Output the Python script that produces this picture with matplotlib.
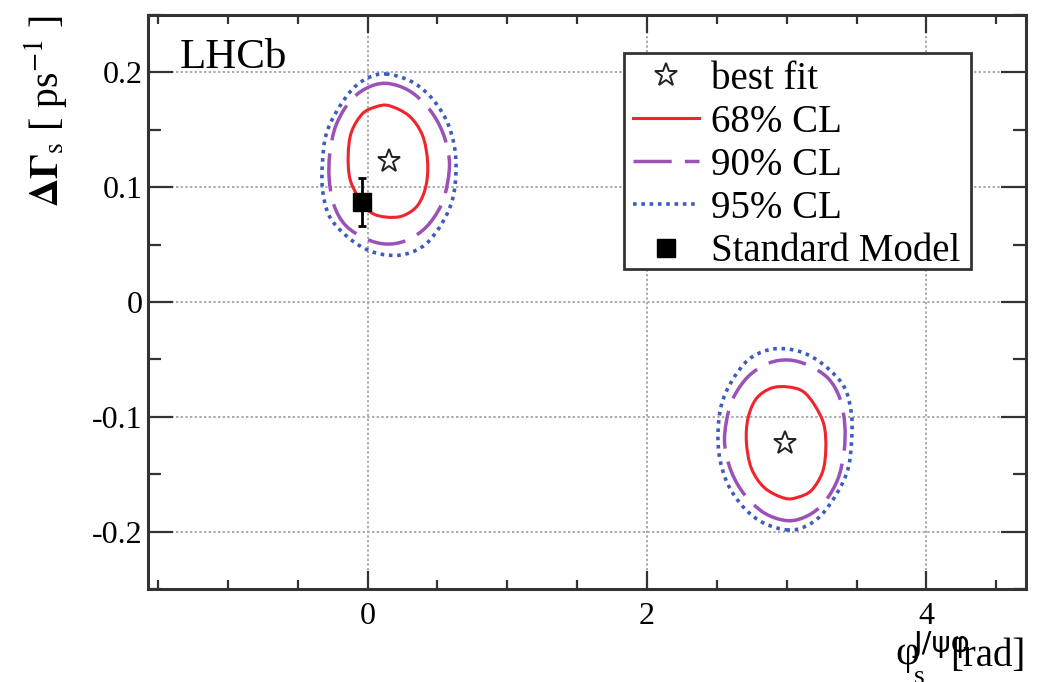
import numpy as np
import matplotlib
matplotlib.use("Agg")
import matplotlib.pyplot as plt
from matplotlib.path import Path
from matplotlib.patches import PathPatch, Rectangle
from matplotlib.lines import Line2D
from matplotlib.ticker import MultipleLocator, FixedLocator

plt.rcParams['font.family'] = ['Liberation Serif', 'DejaVu Serif']
plt.rcParams['mathtext.fontset'] = 'stix'

# ---- data: confidence contours of the first solution (phi_s [rad], dGamma_s [ps^-1]) ----
cl68_phi = [0.155, 0.299, 0.394, 0.430, 0.418, 0.358, 0.251, 0.132, 0.024, -0.059,
            -0.125, -0.138, -0.115, -0.036, 0.060]
cl68_dg = [0.171, 0.162, 0.145, 0.122, 0.101, 0.084, 0.075, 0.074, 0.078, 0.090,
           0.107, 0.128, 0.148, 0.164, 0.170]

cl90_phi = [0.132, 0.299, 0.442, 0.537, 0.585, 0.573, 0.526, 0.418, 0.275, 0.132,
            -0.011, -0.155, -0.239, -0.274, -0.269, -0.226, -0.131, -0.011]
cl90_dg = [0.1905, 0.184, 0.168, 0.148, 0.1246, 0.104, 0.084, 0.065, 0.0535, 0.0505,
           0.055, 0.0665, 0.084, 0.107, 0.130, 0.1537, 0.174, 0.186]

cl95_phi = [0.132, 0.299, 0.442, 0.562, 0.621, 0.633, 0.609, 0.537, 0.418, 0.275,
            0.132, -0.011, -0.155, -0.274, -0.322, -0.322, -0.298, -0.226, -0.107, 0.012]
cl95_dg = [0.1986, 0.193, 0.180, 0.159, 0.136, 0.113, 0.0897, 0.0694, 0.0505, 0.0418,
           0.041, 0.046, 0.058, 0.075, 0.098, 0.122, 0.145, 0.165, 0.1855, 0.1957]

best_phi = 0.155
best_dg = 0.123

sm_phi = -0.036
sm_dg = 0.087
sm_dg_err = 0.021

x_major = [0, 2, 4]
y_major = [-0.2, -0.1, 0.0, 0.1, 0.2]
y_labels = ['-0.2', '-0.1', '0', '0.1', '0.2']

legend_labels = ['best fit', '68% CL', '90% CL', '95% CL', 'Standard Model']

# ---- styles ----
RED = '#f2232b'
PURPLE = '#9b52b8'
BLUE = '#3d5cbd'
styles = [
    dict(color=RED, lw=2.2, ls='-'),
    dict(color=PURPLE, lw=2.5, ls=(0, (11, 3.8))),
    dict(color=BLUE, lw=2.6, ls=(0, (1.0, 1.3))),
]


def closed_curve(xs, ys):
    """Smooth closed Catmull-Rom curve through the given points, as a Bezier path."""
    pts = np.column_stack([xs, ys]).astype(float)
    n = len(pts)
    verts = [pts[0]]
    codes = [Path.MOVETO]
    for i in range(n):
        p0, p1, p2, p3 = pts[i - 1], pts[i], pts[(i + 1) % n], pts[(i + 2) % n]
        verts += [p1 + (p2 - p0) / 6.0, p2 - (p3 - p1) / 6.0, p2]
        codes += [Path.CURVE4] * 3
    return Path(np.array(verts), codes)


W, H = 1041, 682
AX_L, AX_R, AX_T, AX_B = 148, 1026, 15, 589


def ax_x(px):
    return (px - AX_L) / (AX_R - AX_L)


def ax_y(py):
    return (AX_B - py) / (AX_B - AX_T)


fig = plt.figure(figsize=(W / 100, H / 100), dpi=100)
ax = fig.add_axes([AX_L / W, 1 - AX_B / H, (AX_R - AX_L) / W, (AX_B - AX_T) / H])

ax.set_xlim(-np.pi / 2, 3 * np.pi / 2)
ax.set_ylim(-0.25, 0.25)

# the two solutions are related by (phi, dG) -> (pi - phi, -dG)
contours = [(cl68_phi, cl68_dg), (cl90_phi, cl90_dg), (cl95_phi, cl95_dg)]
for (px, py), st in zip(contours, styles):
    px = np.asarray(px)
    py = np.asarray(py)
    for sx, sy in [(px, py), (np.pi - px, -py)]:
        patch = PathPatch(closed_curve(sx, sy), fill=False, edgecolor=st['color'],
                          lw=st['lw'], linestyle=st['ls'], zorder=3)
        ax.add_patch(patch)

star_kw = dict(marker='*', markersize=17, markerfacecolor='white',
               markeredgecolor='#222222', markeredgewidth=1.4, linestyle='none')
ax.plot([best_phi, np.pi - best_phi], [best_dg, -best_dg], zorder=5, **star_kw)

ax.errorbar([sm_phi], [sm_dg], yerr=[sm_dg_err], fmt='s', color='black',
            markersize=13, elinewidth=2, capsize=3, capthick=2, zorder=6)

# axes styling
ax.xaxis.set_major_locator(FixedLocator(x_major))
ax.xaxis.set_minor_locator(MultipleLocator(0.5))
ax.yaxis.set_major_locator(FixedLocator(y_major))
ax.yaxis.set_minor_locator(MultipleLocator(0.05))
ax.set_xticklabels([str(v) for v in x_major])
ax.set_yticklabels(y_labels)

ax.tick_params(axis='both', which='both', direction='in', top=True, right=True,
               colors='#333333', labelcolor='black', labelsize=23, width=1.6)
ax.tick_params(axis='x', which='major', length=13, pad=9)
ax.tick_params(axis='x', which='minor', length=6.5)
ax.tick_params(axis='y', which='major', length=18, pad=4)
ax.tick_params(axis='y', which='minor', length=9.5)

for sp in ax.spines.values():
    sp.set_linewidth(2.2)
    sp.set_color('#333333')

ax.grid(True, which='major', color='#ababab', lw=1.4, ls=(0, (1.2, 1.2)), zorder=0)
ax.set_axisbelow(True)

# experiment label
ax.text(0.036, 0.908, 'LHCb', transform=ax.transAxes, fontsize=31,
        ha='left', va='baseline')

# axis titles
ax.text(-0.117, 1.0, r'$\mathbf{\Delta\Gamma}_{\mathrm{s}}$ [ ps$^{-1}$ ]',
        transform=ax.transAxes, rotation=90, fontsize=28.5, ha='center', va='top')
ax.text(ax_x(895), ax_y(664), 'φ', transform=ax.transAxes,
        fontsize=30, ha='left', va='baseline')
ax.text(ax_x(914), ax_y(684), 's', transform=ax.transAxes,
        fontsize=20, ha='left', va='baseline')
ax.text(0.999, ax_y(666), '[rad]', transform=ax.transAxes,
        fontsize=28, ha='right', va='baseline')
ax.text(ax_x(913), ax_y(652), 'J/ψφ', transform=ax.transAxes,
        fontsize=21, ha='left', va='baseline', family='DejaVu Sans', color='black')

# legend: frame box plus entries
frame = Rectangle((ax_x(624), ax_y(269)), ax_x(971) - ax_x(624), ax_y(53) - ax_y(269),
                  transform=ax.transAxes, facecolor='white', edgecolor='#333333',
                  lw=2.0, zorder=9)
ax.add_patch(frame)

handles = [
    Line2D([], [], **star_kw),
    Line2D([], [], color=RED, lw=styles[0]['lw'], ls=styles[0]['ls']),
    Line2D([], [], color=PURPLE, lw=styles[1]['lw'], ls=styles[1]['ls']),
    Line2D([], [], color=BLUE, lw=styles[2]['lw'], ls=styles[2]['ls']),
    Line2D([], [], marker='s', color='black', markersize=13, linestyle='none'),
]
leg = ax.legend(handles, legend_labels, loc='upper left',
                bbox_to_anchor=(ax_x(625), ax_y(53)),
                fontsize=28, frameon=False, borderaxespad=0, borderpad=0.2,
                handlelength=1.7, handletextpad=0.3, labelspacing=0.157)
leg.set_zorder(10)

fig.savefig('out.png', dpi=100)
